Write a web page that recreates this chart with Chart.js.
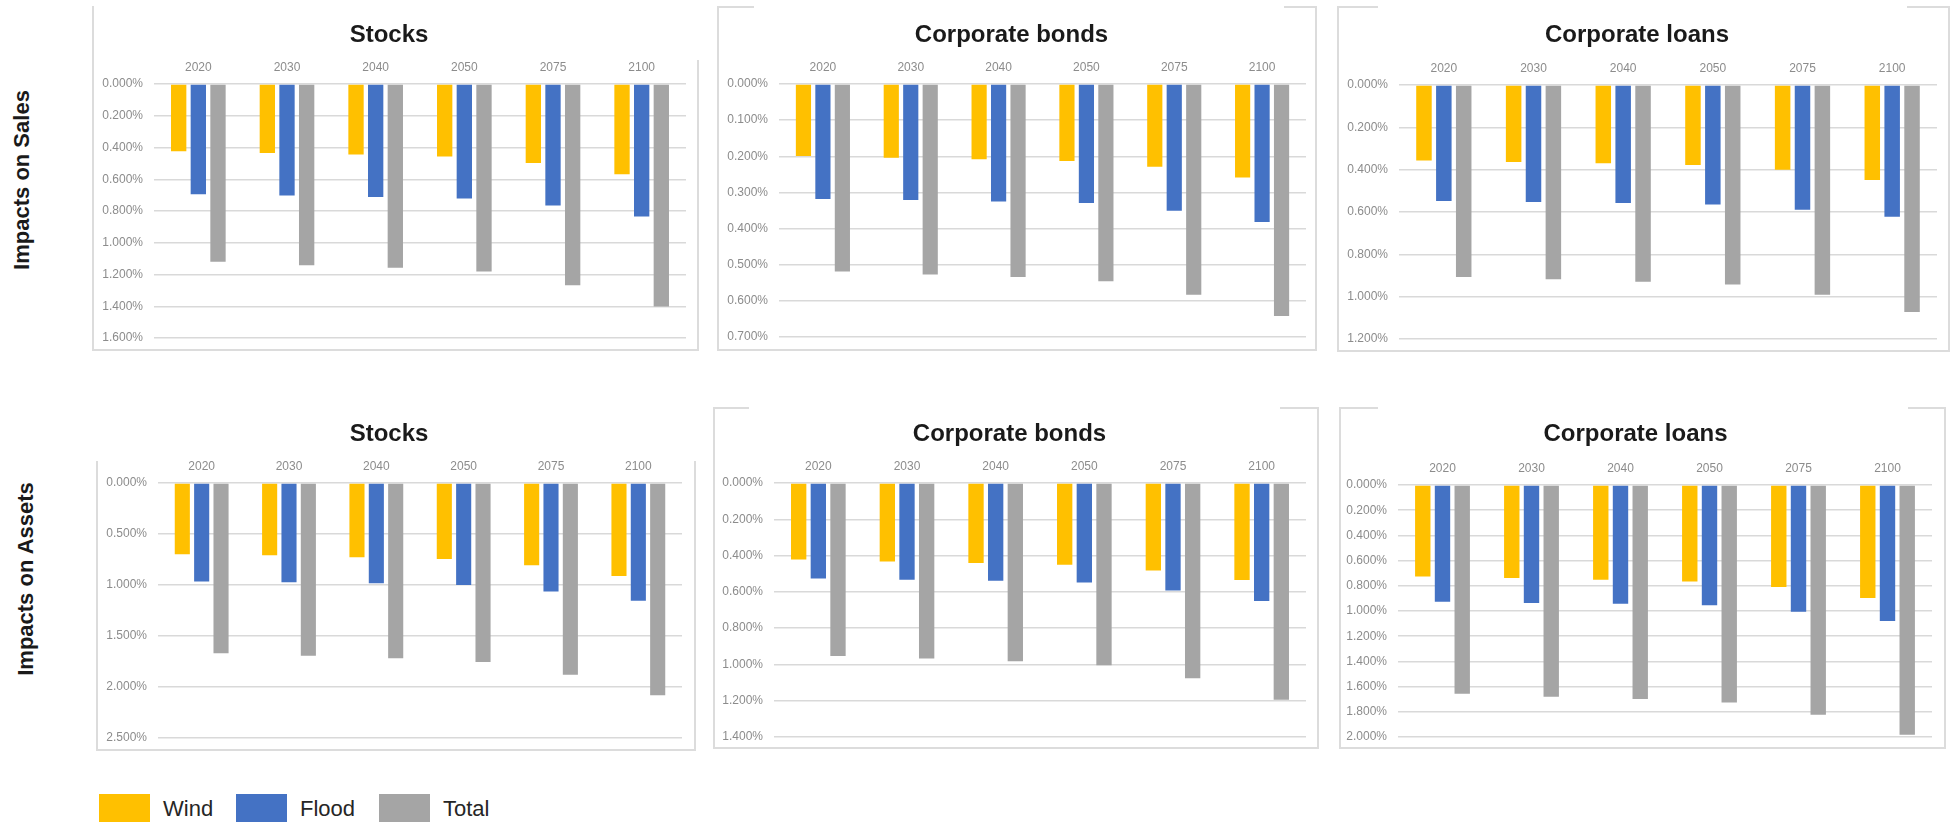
<!DOCTYPE html>
<html>
<head>
<meta charset="utf-8">
<script src="https://cdn.jsdelivr.net/npm/chart.js@4.4.1/dist/chart.umd.min.js"></script>
<style>
body { margin: 0; background: #fff; }
#page { position: relative; width: 1952px; height: 822px; overflow: hidden; font-family: "Liberation Sans", Arial, sans-serif; }
#page canvas { position: absolute; }
.ln { position: absolute; background: #dcdcdc; }
.rowlabel { position: absolute; font-weight: bold; font-size: 22px; color: #1a1a1a; white-space: nowrap;
  transform: translate(-50%, -50%) rotate(-90deg); }
.legbox { position: absolute; width: 51px; height: 28px; }
.legtext { position: absolute; font-size: 22px; color: #262626; line-height: 28px; }
</style>
</head>
<body>
<div id="page"></div>
<script>
// categories and series
const years = ['2020', '2030', '2040', '2050', '2075', '2100'];
const seriesNames = ['Wind', 'Flood', 'Total'];
const seriesColors = ['#FFC000', '#4472C4', '#A5A5A5'];
const rowLabels = ['Impacts on Sales', 'Impacts on Assets'];

// impacts on sales (%)
const salesStocksWind  = [0.423, 0.434, 0.444, 0.457, 0.497, 0.568];
const salesStocksFlood = [0.695, 0.703, 0.712, 0.722, 0.766, 0.834];
const salesStocksTotal = [1.120, 1.141, 1.158, 1.181, 1.267, 1.402];

const salesBondsWind  = [0.199, 0.204, 0.208, 0.213, 0.229, 0.259];
const salesBondsFlood = [0.318, 0.321, 0.325, 0.329, 0.351, 0.382];
const salesBondsTotal = [0.519, 0.527, 0.534, 0.546, 0.583, 0.642];

const salesLoansWind  = [0.357, 0.364, 0.370, 0.378, 0.400, 0.449];
const salesLoansFlood = [0.548, 0.553, 0.557, 0.564, 0.589, 0.622];
const salesLoansTotal = [0.907, 0.918, 0.929, 0.943, 0.991, 1.072];

// impacts on assets (%)
const assetsStocksWind  = [0.699, 0.709, 0.728, 0.745, 0.807, 0.912];
const assetsStocksFlood = [0.965, 0.974, 0.984, 1.001, 1.063, 1.155];
const assetsStocksTotal = [1.670, 1.693, 1.719, 1.755, 1.880, 2.080];

const assetsBondsWind  = [0.421, 0.432, 0.441, 0.450, 0.482, 0.535];
const assetsBondsFlood = [0.526, 0.533, 0.539, 0.548, 0.592, 0.650];
const assetsBondsTotal = [0.954, 0.967, 0.983, 1.004, 1.076, 1.194];

const assetsLoansWind  = [0.726, 0.739, 0.752, 0.766, 0.810, 0.897];
const assetsLoansFlood = [0.926, 0.937, 0.942, 0.955, 1.005, 1.079];
const assetsLoansTotal = [1.657, 1.681, 1.699, 1.726, 1.824, 1.982];

// axis ranges per panel
const axisMax  = [1.6, 0.7, 1.2, 2.5, 1.4, 2.0];
const axisStep = [0.2, 0.1, 0.2, 0.5, 0.2, 0.2];

const panels = [
    { title: 'Stocks', values: [salesStocksWind, salesStocksFlood, salesStocksTotal],
      box: { L: 92, T: 6, W: 607, H: 345, cl: 154, ct: 84, cr: 686, cb: 338, ty: 35 } },
    { title: 'Corporate bonds', values: [salesBondsWind, salesBondsFlood, salesBondsTotal],
      box: { L: 717, T: 6, W: 600, H: 345, cl: 779, ct: 84, cr: 1306, cb: 337, ty: 35 } },
    { title: 'Corporate loans', values: [salesLoansWind, salesLoansFlood, salesLoansTotal],
      box: { L: 1337, T: 6, W: 613, H: 346, cl: 1399, ct: 85, cr: 1937, cb: 339, ty: 35 } },
    { title: 'Stocks', values: [assetsStocksWind, assetsStocksFlood, assetsStocksTotal],
      box: { L: 96, T: 406, W: 600, H: 345, cl: 158, ct: 483, cr: 682, cb: 738, ty: 434 } },
    { title: 'Corporate bonds', values: [assetsBondsWind, assetsBondsFlood, assetsBondsTotal],
      box: { L: 713, T: 407, W: 606, H: 342, cl: 774, ct: 483, cr: 1306, cb: 737, ty: 434 } },
    { title: 'Corporate loans', values: [assetsLoansWind, assetsLoansFlood, assetsLoansTotal],
      box: { L: 1339, T: 407, W: 607, H: 342, cl: 1398, ct: 485, cr: 1932, cb: 737, ty: 434 } }
];

const page = document.getElementById('page');

function line(x, y, w, h) {
    const d = document.createElement('div');
    d.className = 'ln';
    d.style.left = x + 'px'; d.style.top = y + 'px';
    d.style.width = w + 'px'; d.style.height = h + 'px';
    page.appendChild(d);
}

// panel frames (Excel screenshot borders, top edge mostly missing)
line(92, 6, 2, 345); line(697, 60, 2, 291); line(92, 349, 607, 2);
line(717, 6, 2, 345); line(1315, 6, 2, 345); line(717, 349, 600, 2);
line(717, 6, 37, 2); line(1284, 6, 33, 2);
line(1337, 6, 2, 346); line(1948, 6, 2, 346); line(1337, 350, 613, 2);
line(1337, 6, 41, 2); line(1907, 6, 43, 2);
line(96, 461, 2, 290); line(694, 461, 2, 290); line(96, 749, 600, 2);
line(713, 407, 2, 342); line(1317, 407, 2, 342); line(713, 747, 606, 2);
line(713, 407, 36, 2); line(1280, 407, 39, 2);
line(1339, 407, 2, 342); line(1944, 407, 2, 342); line(1339, 747, 607, 2);
line(1339, 407, 39, 2); line(1908, 407, 38, 2);

const tickFont = { family: 'Liberation Sans', size: 12 };
const tickColor = '#8c8c8c';

panels.forEach((p, i) => {
    const b = p.box;
    const cv = document.createElement('canvas');
    cv.width = b.W;
    cv.height = b.H;
    cv.style.left = b.L + 'px';
    cv.style.top = b.T + 'px';
    page.appendChild(cv);

    const titlePad = b.ty - b.T - 14.4;

    new Chart(cv.getContext('2d'), {
        type: 'bar',
        data: {
            labels: years,
            datasets: seriesNames.map((name, k) => ({
                label: name,
                data: p.values[k],
                backgroundColor: seriesColors[k],
                barPercentage: 0.78,
                categoryPercentage: 0.665
            }))
        },
        options: {
            responsive: false,
            animation: false,
            layout: {
                padding: { left: 0, top: 0, right: b.L + b.W - b.cr, bottom: b.T + b.H - b.cb }
            },
            plugins: {
                legend: { display: false },
                tooltip: { enabled: false },
                title: {
                    display: true,
                    text: p.title,
                    color: '#1a1a1a',
                    font: { family: 'Liberation Sans', size: 24, weight: 'bold', lineHeight: 1.2 },
                    padding: { top: titlePad, bottom: 0 }
                }
            },
            scales: {
                x: {
                    position: 'top',
                    grid: { display: false, drawTicks: false },
                    border: { display: false },
                    ticks: { color: tickColor, font: tickFont, padding: 9, maxRotation: 0 },
                    afterFit: (s) => { s.height = b.ct - b.ty - 14.4; s.paddingLeft = 0; s.paddingRight = 0; }
                },
                y: {
                    reverse: true,
                    min: 0,
                    max: axisMax[i],
                    grid: { color: '#d9d9d9', lineWidth: 1.5, drawTicks: false },
                    border: { display: false },
                    ticks: {
                        stepSize: axisStep[i],
                        padding: 11,
                        color: tickColor,
                        font: tickFont,
                        callback: (v) => Number(v).toFixed(3) + '%'
                    },
                    afterFit: (s) => { s.width = b.cl - b.L; s.paddingTop = 0; s.paddingBottom = 0; }
                }
            }
        }
    });
});

// row labels
const rowPos = [[22, 180], [26, 579]];
rowLabels.forEach((t, i) => {
    const d = document.createElement('div');
    d.className = 'rowlabel';
    d.textContent = t;
    d.style.left = rowPos[i][0] + 'px';
    d.style.top = rowPos[i][1] + 'px';
    page.appendChild(d);
});

// legend
const legX = [99, 236, 379];
seriesNames.forEach((name, k) => {
    const box = document.createElement('div');
    box.className = 'legbox';
    box.style.left = legX[k] + 'px';
    box.style.top = '794px';
    box.style.background = seriesColors[k];
    page.appendChild(box);
    const txt = document.createElement('div');
    txt.className = 'legtext';
    txt.textContent = name;
    txt.style.left = (legX[k] + 64) + 'px';
    txt.style.top = '795px';
    page.appendChild(txt);
});
</script>
</body>
</html>
